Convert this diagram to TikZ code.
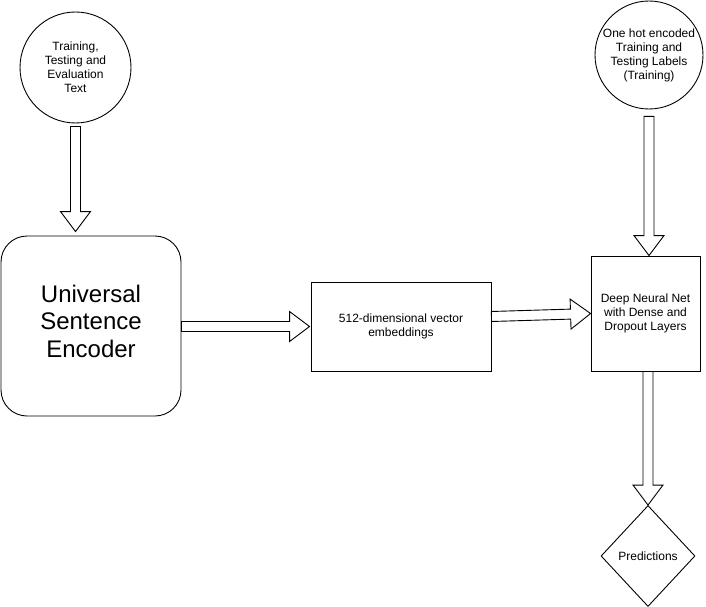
\documentclass[tikz,border=0pt]{standalone}
\usepackage{fontspec}
\setmainfont{Liberation Sans}
\usetikzlibrary{calc,shapes.geometric}

% hollow block arrow between two points
\newcommand{\hollowarrow}[2]{%
  \coordinate (ha-s) at #1;
  \coordinate (ha-t) at #2;
  \coordinate (ha-b) at ($(ha-t)!20pt!(ha-s)$);
  \draw[hollow] ($(ha-s)!5pt!90:(ha-t)$) -- ($(ha-b)!5pt!90:(ha-t)$)
    -- ($(ha-b)!15pt!90:(ha-t)$) -- (ha-t) -- ($(ha-b)!15pt!-90:(ha-t)$)
    -- ($(ha-b)!5pt!-90:(ha-t)$) -- ($(ha-s)!5pt!-90:(ha-t)$) -- cycle;
}

\begin{document}
\begin{tikzpicture}[x=1pt,y=-1pt,line width=0.9pt,
    every node/.style={font=\fontsize{12}{14}\selectfont,align=center,inner sep=0pt},
    src/.style={circle,draw,minimum size=111pt},
    box/.style={rectangle,draw},
    hollow/.style={draw,fill=white,line join=miter}]
    \useasboundingbox (0,0) rectangle (706,607);

    \node[src]                        (txt) at (75.5,67.5) {Training,\\Testing and\\Evaluation\\Text};
    \node[src,minimum size=108pt]     (lbl) at (649,55)   {One hot encoded\\Training and\\Testing Labels\\(Training)};
    \node[box,rounded corners=26pt,minimum width=180pt,minimum height=180pt,text depth=10pt,
          font=\fontsize{24}{27.5}\selectfont] (use) at (91,326) {Universal\\Sentence\\Encoder};
    \node[box,minimum width=180pt,minimum height=89pt]  (emb) at (401,326.5) {512-dimensional vector\\embeddings};
    \node[box,minimum width=109pt,minimum height=115pt] (dnn) at (645.5,313.5) {Deep Neural Net\\with Dense and\\Dropout Layers};
    \node[diamond,draw,minimum width=94pt,minimum height=101pt] (pred) at (648,556) {Predictions};

    \hollowarrow{([yshift=-3pt]txt.south)}{([yshift=4pt]txt.south |- use.north)}
    \hollowarrow{(use.east |- emb.west)}{([xshift=-1pt]emb.west)}
    \hollowarrow{([yshift=10pt]emb.east)}{(dnn.west)}
    \hollowarrow{([yshift=-7pt]lbl.south)}{(lbl.south |- dnn.north)}
    \hollowarrow{(dnn.south -| pred.north)}{(pred.north)}
\end{tikzpicture}
\end{document}
